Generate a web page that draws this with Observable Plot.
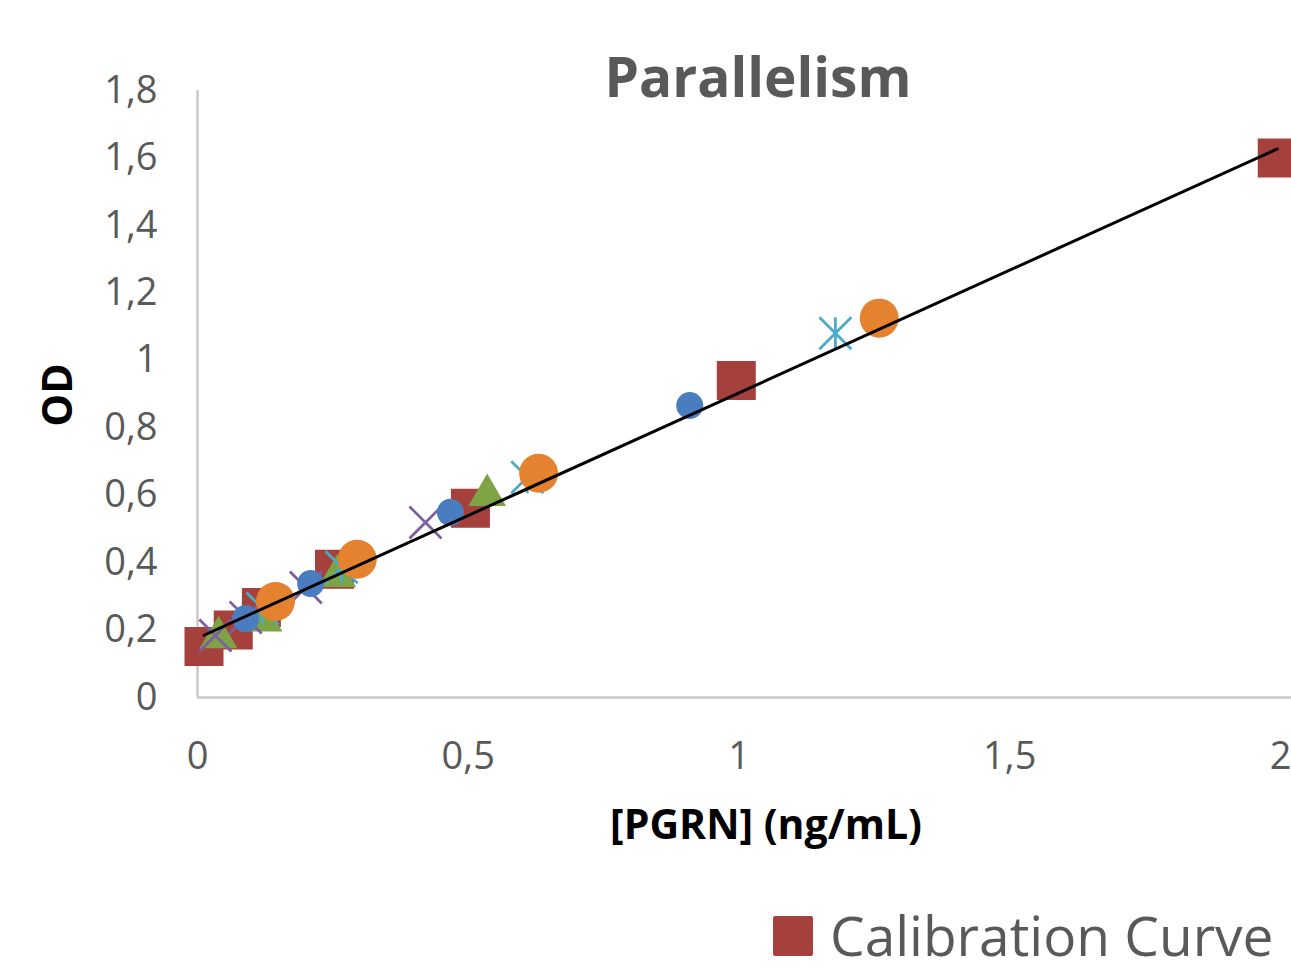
<!DOCTYPE html>
<html>
<head>
<meta charset="utf-8">
<script src="https://cdn.jsdelivr.net/npm/d3@7"></script>
<script src="https://cdn.jsdelivr.net/npm/@observablehq/plot@0.6"></script>
<style>
  body { margin: 0; background: #ffffff; }
  #wrap { position: relative; width: 1291px; height: 973px; overflow: hidden; font-family: "Open Sans", sans-serif; background: #fff; }
  #legend-swatch { position: absolute; left: 773px; top: 916px; width: 40px; height: 40px; background: #A6403D; border-radius: 2px; }
  #legend-text { position: absolute; left: 830px; top: 907px; font-size: 55px; line-height: 1; color: #595959; white-space: nowrap; }
</style>
</head>
<body>
<div id="wrap"></div>
<script>
// ---- Data ----
const titleText = "Parallelism";
const xLabel = "[PGRN] (ng/mL)";
const yLabel = "OD";
const legendLabel = "Calibration Curve";

const xTicks = [0, 0.5, 1, 1.5, 2];
const yTicks = [0, 0.2, 0.4, 0.6, 0.8, 1, 1.2, 1.4, 1.6, 1.8];

// Calibration curve (red squares)
const calX = [0.012, 0.066, 0.118, 0.253, 0.504, 0.995, 1.994];
const calY = [0.151, 0.200, 0.267, 0.380, 0.561, 0.940, 1.600];

// Sample series (legend entries cropped in the reference)
const greenX = [0.039, 0.122, 0.258, 0.535];
const greenY = [0.178, 0.228, 0.360, 0.600];

const purpleX = [0.033, 0.089, 0.200, 0.421];
const purpleY = [0.184, 0.237, 0.326, 0.519];

const cyanX = [0.120, 0.266, 0.609, 1.178];
const cyanY = [0.264, 0.386, 0.653, 1.080];

const blueX = [0.089, 0.209, 0.467, 0.909];
const blueY = [0.234, 0.338, 0.549, 0.866];

const orangeX = [0.144, 0.295, 0.630, 1.259];
const orangeY = [0.285, 0.410, 0.665, 1.125];

// ---- Build tables ----
const rows = (xs, ys) => xs.map((x, i) => ({x, y: ys[i]}));
const cal = rows(calX, calY);
const green = rows(greenX, greenY);
const purple = rows(purpleX, purpleY);
const cyan = rows(cyanX, cyanY);
const blue = rows(blueX, blueY);
const orange = rows(orangeX, orangeY);

// Excel-like marker shapes
const crossSymbol = {
  draw(ctx, size) {
    const r = Math.sqrt(size / Math.PI);
    ctx.moveTo(-r, -r); ctx.lineTo(r, r);
    ctx.moveTo(-r, r); ctx.lineTo(r, -r);
  }
};
const starSymbol = {
  draw(ctx, size) {
    const r = Math.sqrt(size / Math.PI);
    ctx.moveTo(-r, -r); ctx.lineTo(r, r);
    ctx.moveTo(-r, r); ctx.lineTo(r, -r);
    ctx.moveTo(0, -r); ctx.lineTo(0, r);
  }
};

const fmt = d => String(d).replace(".", ",");
const gray = "#595959";

const chart = Plot.plot({
  width: 1291,
  height: 973,
  marginLeft: 197,
  marginRight: 11,
  marginTop: 90,
  marginBottom: 276,
  style: {fontFamily: "'Open Sans', sans-serif", background: "transparent", overflow: "visible"},
  x: {domain: [0, 2], ticks: xTicks},
  y: {domain: [0, 1.8], ticks: yTicks},
  marks: [
    // axis lines
    Plot.ruleX([0], {stroke: "#c9c9c9", strokeWidth: 2.5}),
    Plot.ruleY([0], {x1: 0, x2: 2.1, stroke: "#c9c9c9", strokeWidth: 2.5}),
    // tick labels
    Plot.axisX({ticks: xTicks, tickSize: 0, tickPadding: 45, tickFormat: fmt, fontSize: 38, color: gray, label: null}),
    Plot.axisY({ticks: yTicks, tickSize: 0, tickPadding: 40, tickFormat: fmt, fontSize: 38, color: gray, label: null}),
    // series markers
    Plot.dot(cal, {x: "x", y: "y", symbol: "square", r: 22, fill: "#A6403D"}),
    Plot.dot(green, {x: "x", y: "y", symbol: "triangle", r: 14, fill: "#7DA345"}),
    Plot.dot(purple, {x: "x", y: "y", symbol: crossSymbol, r: 16, fill: "none", stroke: "#7D5FA0", strokeWidth: 2.75}),
    Plot.dot(cyan, {x: "x", y: "y", symbol: starSymbol, r: 16, fill: "none", stroke: "#4BAAC5", strokeWidth: 2.75}),
    Plot.dot(blue, {x: "x", y: "y", symbol: "circle", r: 13.5, fill: "#4A7DBF"}),
    Plot.dot(orange, {x: "x", y: "y", symbol: "circle", r: 19.5, fill: "#E4822F"}),
    // linear trend line of the calibration curve
    Plot.linearRegressionY(cal, {x: "x", y: "y", ci: 0, stroke: "#000000", strokeWidth: 3}),
    // titles
    Plot.text([titleText], {frameAnchor: "top", lineAnchor: "bottom", dx: 19, dy: 6, fontSize: 55, fontWeight: "bold", fill: gray}),
    Plot.text([xLabel], {frameAnchor: "bottom", lineAnchor: "bottom", dx: 27, dy: 141, fontSize: 41, fontWeight: "bold", fill: "#000000"}),
    Plot.text([yLabel], {frameAnchor: "left", textAnchor: "middle", lineAnchor: "middle", rotate: -90, dx: -139, dy: 1, fontSize: 41, fontWeight: "bold", fill: "#000000"})
  ]
});

const wrap = document.getElementById("wrap");
wrap.appendChild(chart);
const sw = document.createElement("div");
sw.id = "legend-swatch";
wrap.appendChild(sw);
const lt = document.createElement("div");
lt.id = "legend-text";
lt.textContent = legendLabel;
wrap.appendChild(lt);
</script>
</body>
</html>
